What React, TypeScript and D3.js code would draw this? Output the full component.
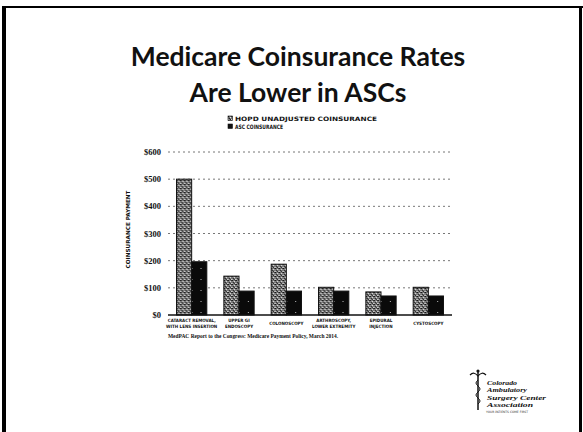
import React from "react";
import * as d3 from "d3";

const categories: string[][] = [
  ["CATARACT REMOVAL,", "WITH LENS INSERTION"],
  ["UPPER GI", "ENDOSCOPY"],
  ["COLONOSCOPY"],
  ["ARTHROSCOPY,", "LOWER EXTREMITY"],
  ["EPIDURAL", "INJECTION"],
  ["CYSTOSCOPY"],
];
const hopdValues = [500, 143, 187, 102, 85, 102];
const ascValues = [196, 88, 88, 88, 70, 70];
const seriesNames = ["HOPD UNADJUSTED COINSURANCE", "ASC COINSURANCE"];
const yTicks = [0, 100, 200, 300, 400, 500, 600];
const titleLines = ["Medicare Coinsurance Rates", "Are Lower in ASCs"];
const yTitle = "COINSURANCE PAYMENT";
const sourceNote = "MedPAC Report to the Congress: Medicare Payment Policy, March 2014.";
const logoLines = ["Colorado", "Ambulatory", "Surgery Center", "Association"];
const logoTagline = "YOUR PATIENTS COME FIRST";

export default function App() {
  const W = 583, H = 432;
  const x0 = 168, x1 = 452;
  const yTop = 152, yBase = 315;
  const x = d3.scaleBand<number>().domain(d3.range(categories.length)).range([x0, x1]).paddingInner(0.36).paddingOuter(0.18);
  const xs = d3.scaleBand<number>().domain([0, 1]).range([0, x.bandwidth()]);
  const y = d3.scaleLinear().domain([0, 600]).range([yBase, yTop]);
  const fmt = (v: number) => "$" + d3.format("d")(v);
  const logoWidths = [30, 40, 59, 46];

  return (
    <svg width={W} height={H} style={{ position: "absolute", left: 0, top: 0, background: "#fff" }}>
      <defs>
        <pattern id="stip" width="4" height="4" patternUnits="userSpaceOnUse">
          <rect width="4" height="4" fill="#7a7a7a" />
          <rect x="0" y="0" width="1" height="1" fill="#111" />
          <rect x="2" y="1" width="1" height="1" fill="#e8e8e8" />
          <rect x="1" y="2" width="1" height="1" fill="#222" />
          <rect x="3" y="3" width="1" height="1" fill="#d0d0d0" />
          <rect x="3" y="0" width="1" height="1" fill="#333" />
          <rect x="0" y="3" width="1" height="1" fill="#bbb" />
          <rect x="2" y="3" width="1" height="1" fill="#222" />
        </pattern>
        <pattern id="dark" width="9" height="11" patternUnits="userSpaceOnUse">
          <rect width="9" height="11" fill="#0a0a0a" />
          <rect x="6" y="4" width="1" height="1" fill="#bbb" />
        </pattern>
      </defs>
      {/* frame */}
      <rect x={2} y={6} width={4} height={H - 6} fill="#000" />
      <rect x={2} y={6} width={W - 2} height={2} fill="#000" />
      <rect x={579} y={6} width={3} height={H - 6} fill="#000" />

      {/* title */}
      {titleLines.map((t, i) => (
        <text key={i} x={298} y={66 + i * 36} textAnchor="middle" fontFamily="Lato, 'Open Sans', sans-serif" fontWeight={700} fontSize={26.5} fill="#111">{t}</text>
      ))}

      {/* legend */}
      {seriesNames.map((s, i) => (
        <g key={i} transform={`translate(228, ${116 + i * 8})`}>
          <rect x={0} y={0} width={4.5} height={4.5} fill={i === 0 ? "url(#stip)" : "#111"} stroke="#111" strokeWidth={0.6} />
          <text x={7} y={4.5} fontFamily="'DejaVu Sans Condensed', 'DejaVu Sans', sans-serif" fontWeight={700} fontSize={6} fill="#111" textLength={i === 0 ? 142 : 48} lengthAdjust="spacingAndGlyphs">{s}</text>
        </g>
      ))}

      {/* gridlines */}
      {yTicks.filter(t => t > 0).map(t => (
        <line key={t} x1={x0} x2={x1} y1={y(t)} y2={y(t)} stroke="#777" strokeWidth={1} strokeDasharray="2 3" />
      ))}

      {/* y ticks */}
      {yTicks.map(t => (
        <text key={t} x={161} y={y(t) + 3} textAnchor="end" fontFamily="'Liberation Serif', serif" fontWeight={700} fontSize={8.5} fill="#111">{fmt(t)}</text>
      ))}
      <text transform={`translate(130, ${(yTop + yBase) / 2 - 4}) rotate(-90)`} textAnchor="middle" fontFamily="'DejaVu Sans Condensed', sans-serif" fontWeight={700} fontSize={5.5} fill="#111" textLength={78} lengthAdjust="spacingAndGlyphs">{yTitle}</text>

      {/* bars */}
      {categories.map((c, i) => (
        <g key={i} transform={`translate(${x(i)}, 0)`}>
          <rect x={xs(0)} y={y(hopdValues[i])} width={xs.bandwidth()} height={yBase - y(hopdValues[i])} fill="url(#stip)" stroke="#111" strokeWidth={1} />
          <rect x={xs(1)} y={y(ascValues[i])} width={xs.bandwidth()} height={yBase - y(ascValues[i])} fill="url(#dark)" stroke="#111" strokeWidth={1} />
          {c.map((l, j) => (
            <text key={j} x={x.bandwidth() / 2} y={yBase + 7 + j * 5.5 + (c.length === 1 ? 2.5 : 0)} textAnchor="middle" fontFamily="'DejaVu Sans Condensed', sans-serif" fontWeight={700} fontSize={4.5} fill="#111">{l}</text>
          ))}
        </g>
      ))}
      {/* baseline */}
      <line x1={x0} x2={x1} y1={yBase} y2={yBase} stroke="#111" strokeWidth={1.5} />

      {/* source */}
      <text x={168} y={338} fontFamily="'Liberation Serif', serif" fontWeight={700} fontSize={5.5} fill="#111" textLength={170} lengthAdjust="spacingAndGlyphs">{sourceNote}</text>

      {/* logo */}
      <g>
        <line x1={478} x2={478} y1={372} y2={410} stroke="#111" strokeWidth={1.5} />
        <path d="M470,375 Q474,371 478,376 Q482,371 486,375" fill="none" stroke="#111" strokeWidth={1.2} />
        <circle cx={478} cy={371} r={1.6} fill="#111" />
        <path d="M478,380 q-4,3 0,6 q4,3 0,6 q-4,3 0,6 q4,3 0,6" fill="none" stroke="#111" strokeWidth={1} />
        {logoLines.map((l, i) => (
          <text key={i} x={487} y={385 + i * 7.3} fontFamily="'Liberation Serif', serif" fontStyle="italic" fontWeight={700} fontSize={7} fill="#111" textLength={logoWidths[i]} lengthAdjust="spacingAndGlyphs">{l}</text>
        ))}
        <text x={486} y={413} fontFamily="'DejaVu Sans', sans-serif" fontSize={3} fill="#333" textLength={42} lengthAdjust="spacingAndGlyphs">{logoTagline}</text>
      </g>
    </svg>
  );
}
